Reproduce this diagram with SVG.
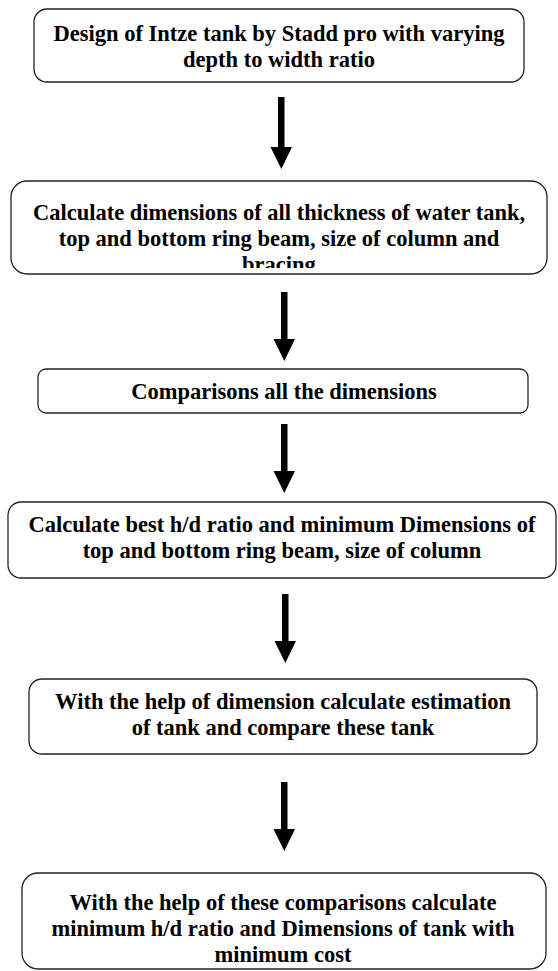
<svg xmlns="http://www.w3.org/2000/svg" width="558" height="971" viewBox="0 0 558 971">
<style>
.box{fill:#fff;stroke:#222;stroke-width:1.3}
.t{font-family:"Liberation Serif","Times New Roman",serif;font-weight:bold;font-size:22.5px;fill:#000;text-anchor:middle}
.ar{fill:#000}
</style>
<defs>
<clipPath id="c2"><rect x="0" y="181" width="558" height="87"/></clipPath>
</defs>
<rect width="558" height="971" fill="#fff"/>
<g id="connectors">
<path class="ar" d="M278,97 H284.5 V147 H292 L281.3,169 L270.5,147 H278 Z"/>
<path class="ar" d="M281,292 H287.5 V339 H295 L284.3,361 L273.5,339 H281 Z"/>
<path class="ar" d="M281,424 H287.5 V471 H295 L284.3,493 L273.5,471 H281 Z"/>
<path class="ar" d="M282,594 H288.5 V641 H296 L285.3,663 L274.5,641 H282 Z"/>
<path class="ar" d="M281,782 H287.5 V829 H295 L284.3,851 L273.5,829 H281 Z"/>
</g>
<g id="n1">
<rect class="box" x="34" y="9" width="490" height="73" rx="13"/>
<text class="t" x="279" y="41">Design of Intze tank by Stadd pro with varying</text>
<text class="t" x="279" y="67">depth to width ratio</text>
</g>
<g id="n2">
<rect class="box" x="11" y="181" width="536" height="93" rx="16"/>
<text class="t" x="279" y="220">Calculate dimensions of all thickness of water tank,</text>
<text class="t" x="279" y="246">top and bottom ring beam, size of column and</text>
<text class="t" x="279" y="272" clip-path="url(#c2)">bracing</text>
</g>
<g id="n3">
<rect class="box" x="38" y="369" width="490" height="44" rx="8"/>
<text class="t" x="284" y="399">Comparisons all the dimensions</text>
</g>
<g id="n4">
<rect class="box" x="8" y="502" width="548" height="76" rx="13"/>
<text class="t" x="282" y="532">Calculate best h/d ratio and minimum Dimensions of</text>
<text class="t" x="282" y="558">top and bottom ring beam, size of column</text>
</g>
<g id="n5">
<rect class="box" x="29" y="679" width="508" height="75" rx="13"/>
<text class="t" x="283" y="709">With the help of dimension calculate estimation</text>
<text class="t" x="283" y="735">of tank and compare these tank</text>
</g>
<g id="n6">
<rect class="box" x="22" y="873" width="524" height="96" rx="16"/>
<text class="t" x="283" y="910">With the help of these comparisons calculate</text>
<text class="t" x="283" y="936">minimum h/d ratio and Dimensions of tank with</text>
<text class="t" x="283" y="962">minimum cost</text>
</g>
</svg>
